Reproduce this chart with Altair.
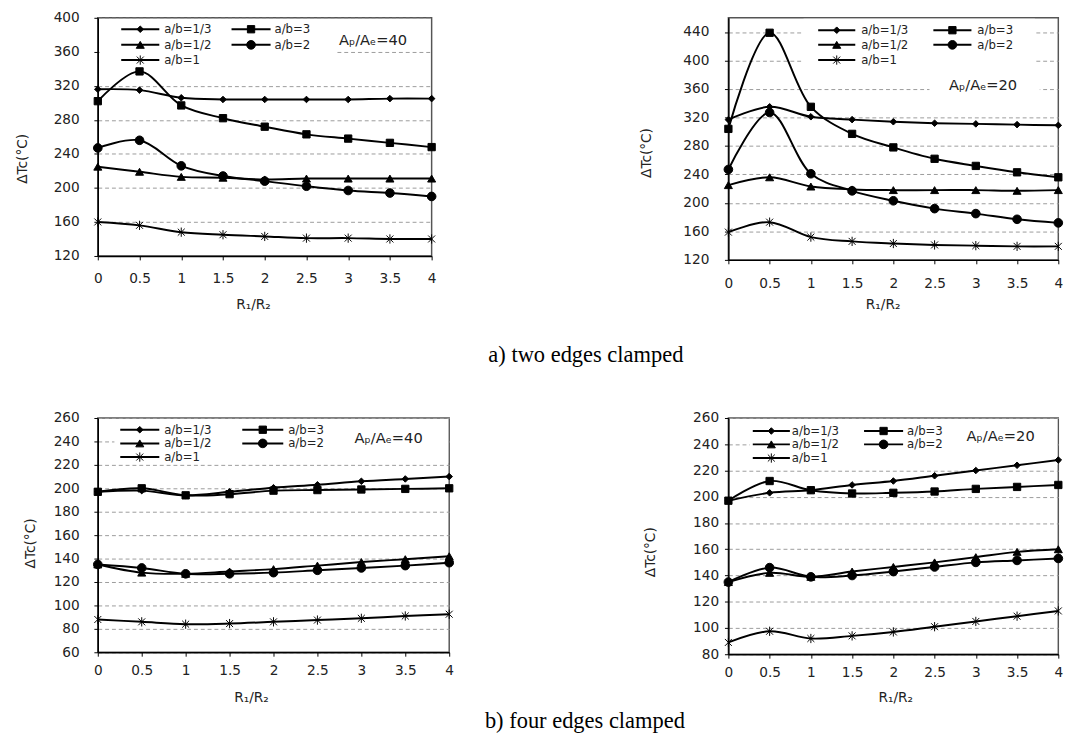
import altair as alt
import pandas as pd

# ---------------- data ----------------
R = [0, 0.5, 1, 1.5, 2, 2.5, 3, 3.5, 4]
SERIES = ["a/b=1/3", "a/b=3", "a/b=1/2", "a/b=2", "a/b=1"]

# a) two edges clamped, Ap/Ae = 40
a40_13 = [316, 315, 306, 304, 304, 304, 304, 305, 305]
a40_3 = [302, 337, 297, 282, 272, 263, 258, 253, 248]
a40_12 = [225, 219, 213, 212, 210, 211, 211, 211, 211]
a40_2 = [247, 256, 226, 214, 208, 202, 197, 194, 190]
a40_1 = [160, 156, 148, 145, 143, 141, 141, 140, 140]

# a) two edges clamped, Ap/Ae = 20
a20_13 = [317, 335, 321, 317, 314, 312, 311, 310, 309]
a20_3 = [304, 439, 335, 297, 278, 262, 252, 243, 236]
a20_12 = [225, 236, 223, 219, 218, 218, 218, 217, 218]
a20_2 = [247, 327, 241, 217, 203, 192, 185, 177, 172]
a20_1 = [159, 173, 152, 146, 143, 141, 140, 139, 139]

# b) four edges clamped, Ap/Ae = 40
b40_13 = [197, 198, 194, 197, 200.5, 203, 206, 208, 210]
b40_3 = [197, 200, 194, 195, 198, 198.5, 199, 199.5, 200]
b40_12 = [135, 128, 127, 129, 131, 134, 137, 139.5, 142]
b40_2 = [135, 132, 127, 127, 128, 130, 132, 134, 136.5]
b40_1 = [88, 86, 84, 84.5, 86, 87.5, 89, 91, 92.5]

# b) four edges clamped, Ap/Ae = 20
b20_13 = [197, 203, 205, 209, 212, 216, 220, 224, 228]
b20_3 = [197, 212, 205, 202.5, 203, 204, 206, 207.5, 209]
b20_12 = [135, 142, 139, 143, 146.5, 150, 154, 158, 160]
b20_2 = [135, 146, 139, 140, 143, 146.5, 150, 151.5, 153]
b20_1 = [89, 97.5, 92, 94, 97, 101, 105, 109, 113]

# ---------------- styling ----------------
ASTERISK = "M-0.75,-0.75L0.75,0.75M-0.75,0.75L0.75,-0.75M0,-1L0,1"
SHAPES = ["diamond", "square", "triangle-up", "circle", ASTERISK]
SIZES = [45, 90, 85, 85, 80]
FONT = "DejaVu Sans"
TXT = "#222222"

shape_scale = alt.Scale(domain=SERIES, range=SHAPES)
size_scale = alt.Scale(domain=SERIES, range=SIZES)


def panel(vals, c):
    df = pd.DataFrame(
        [{"r": r, "series": s, "dt": v} for s, arr in zip(SERIES, vals) for r, v in zip(R, arr)]
    )
    xenc = alt.X(
        "r:Q",
        scale=alt.Scale(domain=[0, 4], nice=False, zero=False),
        axis=alt.Axis(
            values=R, tickCount=len(R), format=".1~f", title="R₁/R₂", grid=False,
            labelFlush=False, labelOverlap=False, labelPadding=c["xlp"],
            titleX=c["xt"][0], titleY=c["xt"][1], titleBaseline="middle",
        ),
    )
    yenc = alt.Y(
        "dt:Q",
        scale=alt.Scale(domain=c["ydom"], nice=False, zero=False),
        axis=alt.Axis(
            values=c["yticks"], tickCount=len(c["yticks"]), title="ΔTc(°C)", grid=True,
            labelFlush=False, labelOverlap=False, labelPadding=c["ylp"],
            titleX=c["yt"][0], titleY=c["yt"][1], titleBaseline="middle",
            titleAngle=270,
        ),
    )
    base = alt.Chart(df)

    boxes = [
        alt.Chart(pd.DataFrame({"k": [0]})).mark_rect(fill="white").encode(
            x=alt.value(b[0]), x2=alt.value(b[1]), y=alt.value(b[2]), y2=alt.value(b[3])
        )
        for b in c["boxes"]
    ]

    line = base.mark_line(interpolate="catmull-rom", color="black", strokeWidth=2).encode(
        x=xenc, y=yenc, detail="series:N"
    )
    pts = base.mark_point(filled=True, fill="black", stroke="black", strokeWidth=1, opacity=1).encode(
        x="r:Q", y="dt:Q",
        shape=alt.Shape("series:N", scale=shape_scale, legend=None),
        size=alt.Size("series:N", scale=size_scale, legend=None),
    )

    # legend (drawn inside the plot)
    rows = []
    for i, s in enumerate(SERIES):
        col = c["lcols"][i % 2]
        rows.append({"series": s, "x1": col[0], "x2": col[1], "xm": (col[0] + col[1]) / 2,
                     "xt": col[2], "yy": c["lrows"][i // 2]})
    ldf = pd.DataFrame(rows)
    lb = alt.Chart(ldf)
    lrule = lb.mark_rule(color="black", strokeWidth=2).encode(
        x=alt.X("x1:Q", scale=None), x2="x2:Q", y=alt.Y("yy:Q", scale=None)
    )
    lpts = lb.mark_point(filled=True, fill="black", stroke="black", strokeWidth=1, opacity=1).encode(
        x=alt.X("xm:Q", scale=None), y=alt.Y("yy:Q", scale=None),
        shape=alt.Shape("series:N", scale=shape_scale, legend=None),
        size=alt.Size("series:N", scale=size_scale, legend=None),
    )
    ltxt = lb.mark_text(align="left", baseline="middle", font=FONT, fontSize=12, color=TXT).encode(
        x=alt.X("xt:Q", scale=None), y=alt.Y("yy:Q", scale=None), text="series:N"
    )

    ann = alt.Chart(pd.DataFrame({"t": [c["ann"]]})).mark_text(
        align="left", baseline="middle", font=FONT, fontSize=15, color=TXT
    ).encode(x=alt.value(c["annxy"][0]), y=alt.value(c["annxy"][1]), text="t:N")

    layers = boxes + [line, pts, lrule, lpts, ltxt, ann]
    if c.get("caption"):
        cap = alt.Chart(pd.DataFrame({"t": [c["caption"]]})).mark_text(
            align="center", baseline="middle", font="Liberation Serif", fontSize=23, color="black"
        ).encode(x=alt.value(c["capxy"][0]), y=alt.value(c["capxy"][1]), text="t:N")
        layers.append(cap)
    return alt.layer(*layers).properties(width=c["W"], height=c["H"])


c1 = dict(W=342, H=244, ydom=[120, 400], yticks=list(range(120, 401, 40)), ylp=15, xlp=12,
          yt=(-77, 144), xt=(159, 50), boxes=[(2, 244, 2, 52)],
          lcols=[(24, 63, 68), (137, 177, 181)], lrows=[11.7, 27.7, 43.3],
          ann="Aₚ/Aₑ=40", annxy=(247, 23),
          caption="a) two edges clamped", capxy=(500, 346))
c2 = dict(W=338, H=248, ydom=[120, 460], yticks=list(range(120, 441, 40)), ylp=16, xlp=13,
          yt=(-84, 138), xt=(158, 46), boxes=[(77, 314, 1, 49), (206, 319, 58, 80)],
          lcols=[(92, 130, 136), (210, 249, 255)], lrows=[12.7, 27.7, 43.3],
          ann="Aₚ/Aₑ=20", annxy=(226, 69))
c3 = dict(W=360, H=240, ydom=[60, 260], yticks=list(range(60, 261, 20)), ylp=15, xlp=8,
          yt=(-69, 128), xt=(157, 46), boxes=[(17, 359, 1, 46)],
          lcols=[(23, 63, 68), (148, 190, 195)], lrows=[12, 26, 40],
          ann="Aₚ/Aₑ=40", annxy=(263, 21),
          caption="b) four edges clamped", capxy=(499, 311))
c4 = dict(W=338, H=242, ydom=[80, 260], yticks=list(range(80, 261, 20)), ylp=6, xlp=8,
          yt=(-80, 137), xt=(171, 44), boxes=[(22, 337, 1, 48)],
          lcols=[(25, 63, 65), (139, 179, 183)], lrows=[13.3, 27, 41],
          ann="Aₚ/Aₑ=20", annxy=(244, 19))

p1 = panel([a40_13, a40_3, a40_12, a40_2, a40_1], c1)
p2 = panel([a20_13, a20_3, a20_12, a20_2, a20_1], c2)
p3 = panel([b40_13, b40_3, b40_12, b40_2, b40_1], c3)
p4 = panel([b20_13, b20_3, b20_12, b20_2, b20_1], c4)

chart = alt.concat(
    p1, p2, p3, p4, columns=2, spacing={"row": 162, "column": 286}, bounds="flush"
).properties(
    padding={"left": 7, "top": -7, "right": 5, "bottom": 5}
).configure_view(
    stroke="#555555", strokeWidth=1.5
).configure_axis(
    domainColor="black", domainWidth=1.5, tickColor="black", tickSize=4, tickWidth=1,
    labelFont=FONT, labelFontSize=14, labelColor=TXT,
    titleFont=FONT, titleFontSize=14, titleFontWeight="normal", titleColor=TXT,
    gridColor="#9a9a9a", gridDash=[4, 3], gridWidth=1,
)

chart.save("out.html", embed_options={"renderer": "svg", "actions": False})
